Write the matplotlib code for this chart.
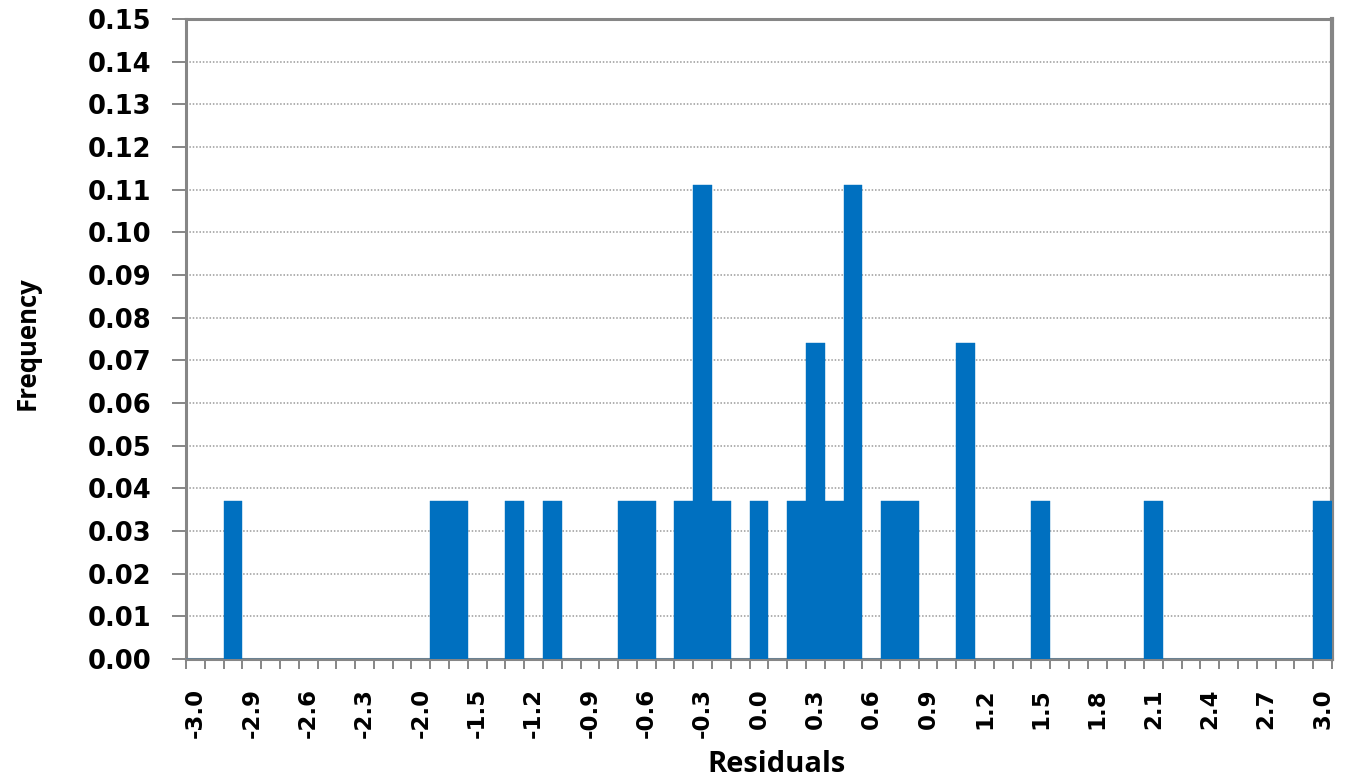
import matplotlib
matplotlib.use("Agg")
import matplotlib.pyplot as plt
import numpy as np

# Relative frequency of residuals per bin (61 bins, left to right)
frequency = [
    0, 0, 0.037, 0, 0, 0, 0, 0, 0, 0,
    0, 0, 0, 0.037, 0.037, 0, 0, 0.037, 0, 0.037,
    0, 0, 0, 0.037, 0.037, 0, 0.037, 0.111, 0.037, 0,
    0.037, 0, 0.037, 0.074, 0.037, 0.111, 0, 0.037, 0.037, 0,
    0, 0.074, 0, 0, 0, 0.037, 0, 0, 0, 0,
    0, 0.037, 0, 0, 0, 0, 0, 0, 0, 0,
    0.037,
]

# Category labels shown on every third bin
bin_labels = ["-3.0", "-2.9", "-2.6", "-2.3", "-2.0", "-1.5", "-1.2", "-0.9",
              "-0.6", "-0.3", "0.0", "0.3", "0.6", "0.9", "1.2", "1.5",
              "1.8", "2.1", "2.4", "2.7", "3.0"]
label_step = 3

y_ticks = [round(0.01 * k, 2) for k in range(16)]

BAR_COLOR = "#0070C0"
AXIS_GRAY = "#868686"

W, H = 1356, 781
fig = plt.figure(figsize=(W / 100, H / 100), dpi=100)
ax = fig.add_axes([186 / W, 1 - 659 / H, (1332 - 186) / W, (659 - 19) / H])

n = len(frequency)
x = np.arange(n)
ax.bar(x, frequency, width=1.0, color=BAR_COLOR, edgecolor=BAR_COLOR,
       linewidth=0.3, zorder=3)

ax.set_xlim(-0.5, n - 0.5)
ax.set_ylim(0, 0.15)

# Horizontal dotted grid
ax.set_yticks(y_ticks)
ax.set_yticklabels([f"{v:.2f}" for v in y_ticks])
ax.yaxis.grid(True, color="#9a9a9a", linestyle=(0, (1.0, 1.2)),
              linewidth=1.1, zorder=0)
ax.set_axisbelow(True)

# Category labels and boundary tick marks on the x axis
ax.set_xticks(x[::label_step])
ax.set_xticklabels(bin_labels, rotation=90)
ax.set_xticks(np.arange(n + 1) - 0.5, minor=True)
ax.tick_params(axis="x", which="major", length=0, pad=21)
ax.tick_params(axis="x", which="minor", length=7, width=1.4, color=AXIS_GRAY)
ax.tick_params(axis="y", which="major", length=10, width=1.4, color=AXIS_GRAY,
               pad=15)

for lbl in ax.get_xticklabels() + ax.get_yticklabels():
    lbl.set_fontweight("bold")
    lbl.set_family("DejaVu Sans")
for lbl in ax.get_yticklabels():
    lbl.set_fontsize(18.5)
for lbl in ax.get_xticklabels():
    lbl.set_fontsize(16.5)

for side in ["left", "bottom", "top"]:
    ax.spines[side].set_color(AXIS_GRAY)
    ax.spines[side].set_linewidth(2.2)
ax.spines["right"].set_color(AXIS_GRAY)
ax.spines["right"].set_linewidth(3.0)

fig.text(776 / W, 1 - 764 / H, "Residuals", ha="center", va="center",
         fontsize=21, fontweight="bold", family="Open Sans")
fig.text(27 / W, 1 - 343 / H, "Frequency", ha="center", va="center",
         rotation=90, fontsize=18.5, fontweight="bold", family="Open Sans")

fig.savefig("out.png", dpi=100, facecolor="white")
